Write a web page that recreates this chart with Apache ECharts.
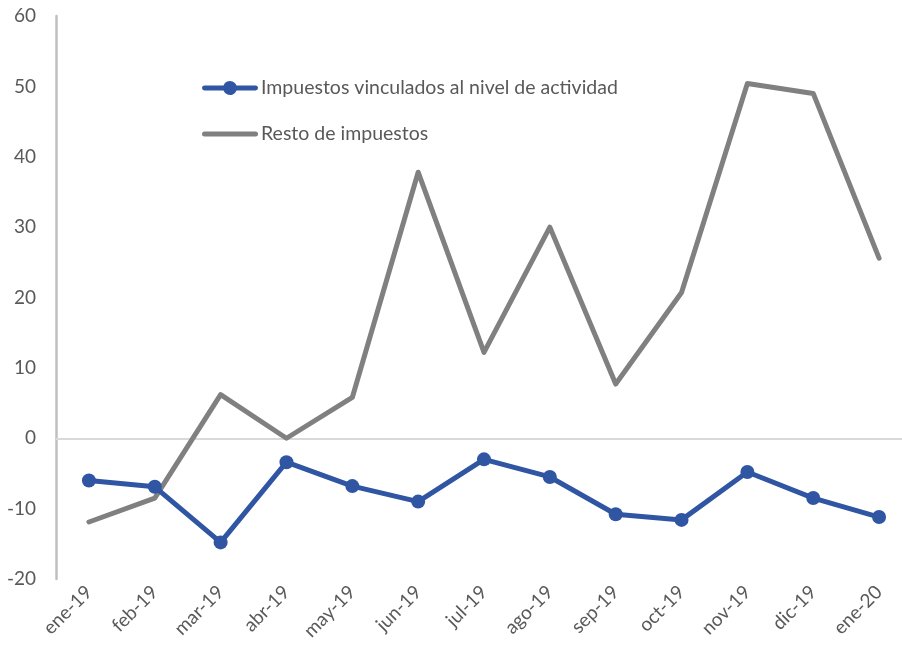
<!DOCTYPE html>
<html>
<head>
<meta charset="utf-8">
<script src="https://cdn.jsdelivr.net/npm/echarts@6/dist/echarts.min.js"></script>
<style>html,body{margin:0;padding:0;background:#fff}#c{width:902px;height:655px}</style>
</head>
<body>
<div id="c"></div>
<script>
const categories = ['ene-19','feb-19','mar-19','abr-19','may-19','jun-19','jul-19','ago-19','sep-19','oct-19','nov-19','dic-19','ene-20'];
const seriesNames = ['Impuestos vinculados al nivel de actividad', 'Resto de impuestos'];
const vinculados = [-6.0, -6.9, -14.8, -3.4, -6.8, -9.0, -3.0, -5.5, -10.8, -11.6, -4.8, -8.5, -11.2];
const resto = [-11.9, -8.5, 6.2, 0.0, 5.8, 37.8, 12.2, 30.0, 7.7, 20.7, 50.4, 49.0, 25.6];
const yTicks = { min: -20, max: 60, interval: 10 };

const FONT = 'Lato, "Open Sans", sans-serif';
const ICON_LINE_DOT = 'path://M2.5,4.5 L21.46,4.5 A7,7 0 0 1 34.54,4.5 L53.5,4.5 A2.5,2.5 0 0 1 53.5,9.5 L34.54,9.5 A7,7 0 0 1 21.46,9.5 L2.5,9.5 A2.5,2.5 0 0 1 2.5,4.5 Z';
const ICON_LINE = 'path://M2.5,0 L53.5,0 A2.5,2.5 0 0 1 53.5,5 L2.5,5 A2.5,2.5 0 0 1 2.5,0 Z';

const chart = echarts.init(document.getElementById('c'), null, { renderer: 'canvas' });
chart.setOption({
  backgroundColor: '#ffffff',
  animation: false,
  grid: { left: 56, top: 16, width: 856, bottom: 76, containLabel: false, outerBoundsMode: 'none' },
  legend: {
    orient: 'vertical',
    left: 202,
    top: 78,
    padding: 0,
    itemWidth: 56,
    itemHeight: 14,
    itemGap: 26,
    symbolKeepAspect: true,
    textStyle: { color: '#595959', fontSize: 19.5, fontFamily: FONT, padding: [0, 0, 0, -2] },
    data: [
      { name: seriesNames[0], icon: ICON_LINE_DOT },
      { name: seriesNames[1], icon: ICON_LINE }
    ]
  },
  xAxis: {
    type: 'category',
    data: categories,
    boundaryGap: true,
    axisLine: { show: false, onZero: false },
    axisTick: { show: false },
    axisLabel: { rotate: 45, color: '#595959', fontSize: 19, fontFamily: FONT, margin: 10, interval: 0 },
    splitLine: { show: false }
  },
  yAxis: {
    type: 'value',
    min: yTicks.min, max: yTicks.max, interval: yTicks.interval,
    axisLine: { show: true, lineStyle: { color: '#bfbfbf', width: 2.5 } },
    axisTick: { show: false },
    splitLine: { show: false },
    axisLabel: { color: '#595959', fontSize: 19, fontFamily: FONT, margin: 20 }
  },
  series: [
    {
      name: seriesNames[1],
      type: 'line',
      data: resto,
      symbol: 'none',
      lineStyle: { color: '#808080', width: 5, cap: 'round', join: 'round' },
      itemStyle: { color: '#808080' },
      z: 2,
      markLine: {
        silent: true,
        symbol: ['none', 'none'],
        label: { show: false },
        lineStyle: { color: '#d9d9d9', width: 2, type: 'solid' },
        data: [{ yAxis: 0 }],
        z: 1
      }
    },
    {
      name: seriesNames[0],
      type: 'line',
      data: vinculados,
      symbol: 'circle',
      symbolSize: 14,
      lineStyle: { color: '#2f55a3', width: 5, cap: 'round', join: 'round' },
      itemStyle: { color: '#2f55a3' },
      z: 3
    }
  ]
});
</script>
</body>
</html>
